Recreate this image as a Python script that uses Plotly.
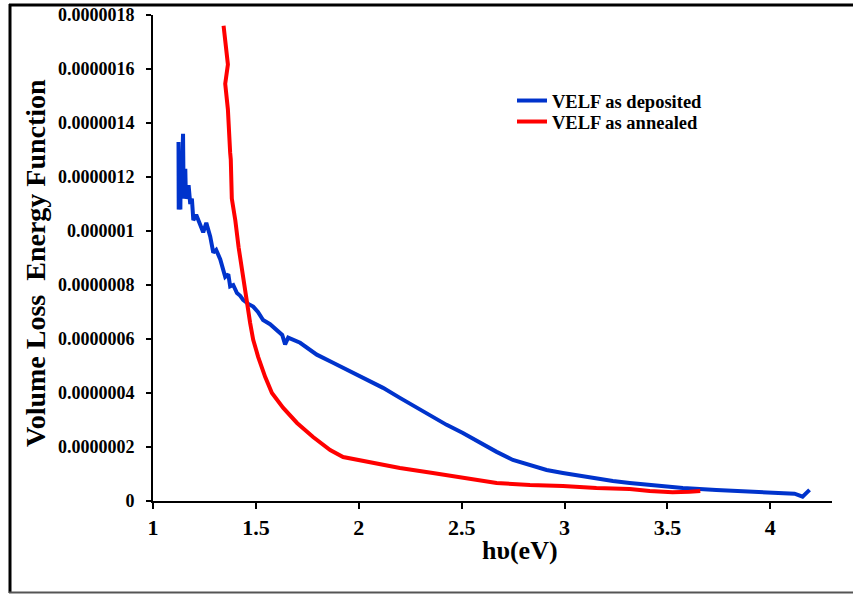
import plotly.graph_objects as go

# ---- data ----
dep_x = [1.124, 1.125, 1.127, 1.128, 1.130, 1.133, 1.135, 1.140, 1.146, 1.149, 1.152, 1.157, 1.160,
         1.164, 1.173, 1.181, 1.189, 1.196, 1.21, 1.23, 1.244, 1.259, 1.278, 1.293, 1.307, 1.327,
         1.351, 1.366, 1.375, 1.39, 1.408, 1.424, 1.438, 1.463, 1.487, 1.51, 1.535, 1.569, 1.602,
         1.628, 1.642, 1.657, 1.715, 1.796, 1.875, 1.958, 2.039, 2.118, 2.20, 2.282, 2.36, 2.427,
         2.506, 2.588, 2.67, 2.749, 2.832, 2.913, 2.992, 3.075, 3.155, 3.235, 3.317, 3.414, 3.575,
         3.738, 3.90, 4.06, 4.118, 4.157, 4.191]
dep_y = [1.33e-6, 1.08e-6, 1.30e-6, 1.10e-6, 1.28e-6, 1.08e-6, 1.25e-6, 1.20e-6, 1.36e-6, 1.12e-6,
         1.15e-6, 1.23e-6, 1.12e-6, 1.13e-6, 1.17e-6, 1.10e-6, 1.12e-6, 1.04e-6, 1.06e-6, 1.02e-6,
         0.995e-6, 1.03e-6, 0.98e-6, 0.92e-6, 0.93e-6, 0.895e-6, 0.83e-6, 0.84e-6, 0.795e-6, 0.80e-6,
         0.77e-6, 0.76e-6, 0.745e-6, 0.73e-6, 0.72e-6, 0.70e-6, 0.67e-6, 0.655e-6, 0.635e-6, 0.615e-6,
         0.58e-6, 0.605e-6, 0.586e-6, 0.542e-6, 0.512e-6, 0.479e-6, 0.449e-6, 0.419e-6, 0.382e-6,
         0.345e-6, 0.312e-6, 0.282e-6, 0.252e-6, 0.215e-6, 0.182e-6, 0.152e-6, 0.134e-6, 0.115e-6,
         0.104e-6, 0.093e-6, 0.085e-6, 0.074e-6, 0.067e-6, 0.059e-6, 0.048e-6, 0.041e-6, 0.035e-6,
         0.030e-6, 0.027e-6, 0.016e-6, 0.041e-6]

ann_x = [1.343, 1.364, 1.351, 1.364, 1.375, 1.378, 1.383, 1.40, 1.416, 1.432, 1.448, 1.464,
         1.472, 1.487, 1.511, 1.545, 1.578, 1.633, 1.70, 1.778, 1.861, 1.924, 2.039, 2.20, 2.36,
         2.506, 2.67, 2.832, 2.992, 3.155, 3.317, 3.414, 3.525, 3.607, 3.66]
ann_y = [1.76e-6, 1.617e-6, 1.545e-6, 1.45e-6, 1.29e-6, 1.265e-6, 1.12e-6, 1.04e-6, 0.94e-6,
         0.857e-6, 0.77e-6, 0.683e-6, 0.66e-6, 0.597e-6, 0.534e-6, 0.46e-6, 0.40e-6, 0.345e-6,
         0.289e-6, 0.237e-6, 0.189e-6, 0.163e-6, 0.145e-6, 0.122e-6, 0.104e-6, 0.085e-6, 0.067e-6,
         0.059e-6, 0.056e-6, 0.048e-6, 0.044e-6, 0.037e-6, 0.032e-6, 0.034e-6, 0.037e-6]

x_ticks = [1, 1.5, 2, 2.5, 3, 3.5, 4]
x_ticktext = ["1", "1.5", "2", "2.5", "3", "3.5", "4"]
y_ticks = [0, 2e-7, 4e-7, 6e-7, 8e-7, 1e-6, 1.2e-6, 1.4e-6, 1.6e-6, 1.8e-6]
y_ticktext = ["0", "0.0000002", "0.0000004", "0.0000006", "0.0000008", "0.000001",
              "0.0000012", "0.0000014", "0.0000016", "0.0000018"]

FONT = "Liberation Serif, Times New Roman, serif"

fig = go.Figure()
fig.add_trace(go.Scatter(x=dep_x, y=dep_y, mode="lines", name="VELF as deposited",
                         line=dict(color="#0033CC", width=4), legend="legend"))
fig.add_trace(go.Scatter(x=ann_x, y=ann_y, mode="lines", name="VELF as annealed",
                         line=dict(color="#FF0000", width=4), legend="legend2"))

W, H = 853, 594
L, R, T, B = 153, 21, 15, 93
pw, ph = W - L - R, H - T - B

def px(xp):
    return (xp - L) / pw

def py(yp):
    return (H - B - yp) / ph

legfont = dict(family=FONT, size=18.5, color="black", weight="bold")

fig.update_layout(
    width=W, height=H,
    margin=dict(l=L, r=R, t=T, b=B, autoexpand=False),
    paper_bgcolor="white", plot_bgcolor="white",
    font=dict(family=FONT, color="black"),
    showlegend=True,
    legend=dict(x=px(512), y=py(82), xanchor="left", yanchor="top",
                bgcolor="rgba(0,0,0,0)", font=legfont),
    legend2=dict(x=px(512), y=py(103), xanchor="left", yanchor="top",
                 bgcolor="rgba(0,0,0,0)", font=legfont),
    xaxis=dict(range=[1, 4.3], tickvals=x_ticks, ticktext=x_ticktext, automargin=False,
               showgrid=False, zeroline=False, showline=True, linecolor="black", linewidth=2,
               ticks="outside", ticklen=6, tickwidth=2, tickcolor="black",
               tickfont=dict(family=FONT, size=22, color="black", weight="bold")),
    yaxis=dict(range=[0, 1.8e-6], tickvals=y_ticks, ticktext=y_ticktext, automargin=False,
               showgrid=False, zeroline=False, showline=True, linecolor="black", linewidth=2,
               ticks="outside", ticklen=5, tickwidth=2, tickcolor="black",
               ticklabelstandoff=8,
               tickfont=dict(family=FONT, size=18, color="black", weight="bold")),
    annotations=[
        dict(text="Volume Loss\u00a0\u00a0Energy Function", xref="paper", yref="paper",
             x=px(35), y=py(263), textangle=-90, showarrow=False,
             xanchor="center", yanchor="middle",
             font=dict(family=FONT, size=28, color="black", weight="bold")),
        dict(text="hυ(eV)", xref="paper", yref="paper",
             x=px(520), y=py(550), showarrow=False, xanchor="center", yanchor="middle",
             font=dict(family=FONT, size=26, color="black", weight="bold")),
    ],
    shapes=[
        dict(type="line", xref="paper", yref="paper", x0=px(10), x1=px(10), y0=py(4), y1=py(593),
             line=dict(color="black", width=3)),
        dict(type="line", xref="paper", yref="paper", x0=px(9), x1=px(853), y0=py(5), y1=py(5),
             line=dict(color="black", width=3)),
        dict(type="line", xref="paper", yref="paper", x0=px(9), x1=px(853), y0=py(592.5), y1=py(592.5),
             line=dict(color="#555555", width=2)),
    ],
)

fig.write_html("out.html")
